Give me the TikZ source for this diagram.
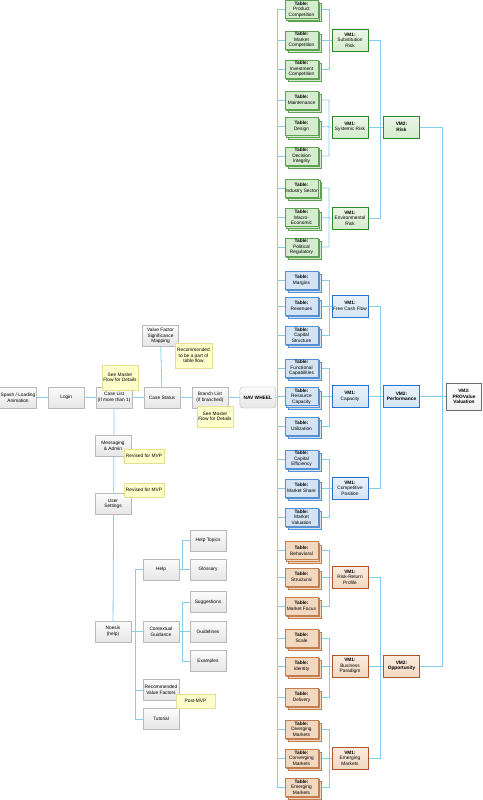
\documentclass[tikz,border=0pt]{standalone}
\usepackage{fontspec}
\setmainfont{Liberation Sans}
\usetikzlibrary{positioning, shadows, backgrounds}
\definecolor{linkblue}{RGB}{135,205,235}
\definecolor{grnline}{RGB}{95,160,85}
\definecolor{grnfill}{RGB}{214,236,206}
\definecolor{grnvm}{RGB}{45,135,45}
\definecolor{bluline}{RGB}{85,145,210}
\definecolor{blufill}{RGB}{212,228,244}
\definecolor{bluvm}{RGB}{40,115,205}
\definecolor{orgline}{RGB}{195,125,80}
\definecolor{orgfill}{RGB}{243,216,192}
\definecolor{orgvm}{RGB}{175,85,45}
\definecolor{notefill}{RGB}{255,255,204}
\definecolor{noteline}{RGB}{232,222,150}

\begin{document}
\begin{tikzpicture}[
    x=1pt, y=-1pt,
    font=\fontsize{4.8}{5.6}\selectfont,
    screen/.style={draw=gray!55, top color=gray!3, bottom color=gray!20,
                   align=center, minimum width=36pt, minimum height=21pt,
                   inner sep=1pt},
    tbl/.style={draw=#1line, fill=#1fill, align=center,
                minimum width=33pt, minimum height=18pt, inner sep=0.5pt,
                double copy shadow={shadow xshift=1.6pt, shadow yshift=-1.6pt,
                                    draw=#1line, fill=#1fill}},
    vmone/.style={draw=#1vm, line width=0.9pt, top color=#1fill!50,
                  bottom color=#1fill, align=center,
                  minimum width=36pt, minimum height=22pt, inner sep=0.5pt},
    vmtwo/.style={vmone=#1, font=\fontsize{4.8}{5.6}\selectfont\bfseries},
    note/.style={draw=noteline, fill=notefill, align=center, inner sep=1pt},
    link/.style={draw=linkblue, line width=0.8pt},
  ]
  \useasboundingbox (0,0) rectangle (482,800);

  % main flow
  \node[screen] (splash) at (18,397.5) {Spash / Loading\\Animation};
  \node[screen, right=11.5pt of splash] (login) {Login};
  \node[screen, right=11.5pt of login] (caselist) {Case List\\(if more than 1)};
  \node[screen, right=11.5pt of caselist] (status) {Case Status};
  \node[screen, right=11.5pt of status] (branch) {Branch List\\(if branched)};
  \node[screen, right=11.5pt of branch, rounded corners=3pt,
        font=\fontsize{4.8}{5.6}\selectfont\bfseries] (nav) {NAV WHEEL};
  \node[screen] (vfsm) at (160.5,336) {Value Factor\\Significance\\Mapping};

  \node[screen] (messaging) at (113,445.5) {Messaging\\\& Admin};
  \node[screen] (settings) at (113,504) {User\\Settings};
  \node[screen] (noesis) at (113,631.5) {Noesis\\(help)};
  \node[screen] (help) at (161,569.5) {Help};
  \node[screen] (guide) at (161,631.5) {Contextual\\Guidance};
  \node[screen] (recvf) at (161,690) {Recommended\\Value Factors};
  \node[screen] (tutorial) at (161,719) {Tutorial};
  \node[screen] (topics) at (208,540.5) {Help Topics};
  \node[screen] (glossary) at (208,569.5) {Glossary};
  \node[screen] (sugg) at (208,602) {Suggestions};
  \node[screen] (guidelines) at (208,631.5) {Guidelines};
  \node[screen] (examples) at (208,661) {Examples};

  % tables
  \node[tbl=grn] (t1) at (301.5,9.5) {\textbf{Table:}\\Product\\Competition};
  \node[tbl=grn] (t2) at (301.5,40) {\textbf{Table:}\\Market\\Competition};
  \node[tbl=grn] (t3) at (301.5,69) {\textbf{Table:}\\Investment\\Competition};
  \node[tbl=grn] (t4) at (301.5,100) {\textbf{Table:}\\Maintenance};
  \node[tbl=grn] (t5) at (301.5,126.5) {\textbf{Table:}\\Design};
  \node[tbl=grn] (t6) at (301.5,156) {\textbf{Table:}\\Decision\\Integrity};
  \node[tbl=grn] (t7) at (301.5,188) {\textbf{Table:}\\Industry Sector};
  \node[tbl=grn] (t8) at (301.5,217.5) {\textbf{Table:}\\Macro-\\Economic};
  \node[tbl=grn] (t9) at (301.5,247) {\textbf{Table:}\\Political\\Regulatory};
  \node[tbl=blu] (t10) at (301.5,280) {\textbf{Table:}\\Margins};
  \node[tbl=blu] (t11) at (301.5,306) {\textbf{Table:}\\Revenues};
  \node[tbl=blu] (t12) at (301.5,335) {\textbf{Table:}\\Capital\\Structure};
  \node[tbl=blu] (t13) at (301.5,368) {\textbf{Table:}\\Functional\\Capabilities};
  \node[tbl=blu] (t14) at (301.5,396.5) {\textbf{Table:}\\Resource\\Capacity};
  \node[tbl=blu] (t15) at (301.5,426) {\textbf{Table:}\\Utilization};
  \node[tbl=blu] (t16) at (301.5,459) {\textbf{Table:}\\Capital\\Efficiency};
  \node[tbl=blu] (t17) at (301.5,488) {\textbf{Table:}\\Market Share};
  \node[tbl=blu] (t18) at (301.5,517) {\textbf{Table:}\\Market\\Valuation};
  \node[tbl=org] (t19) at (301.5,550.5) {\textbf{Table:}\\Behavioral};
  \node[tbl=org] (t20) at (301.5,577) {\textbf{Table:}\\Structural};
  \node[tbl=org] (t21) at (301.5,606) {\textbf{Table:}\\Market Focus};
  \node[tbl=org] (t22) at (301.5,638) {\textbf{Table:}\\Scale};
  \node[tbl=org] (t23) at (301.5,666) {\textbf{Table:}\\Identity};
  \node[tbl=org] (t24) at (301.5,697) {\textbf{Table:}\\Delivery};
  \node[tbl=org] (t25) at (301.5,729) {\textbf{Table:}\\Diverging\\Markets};
  \node[tbl=org] (t26) at (301.5,758) {\textbf{Table:}\\Converging\\Markets};
  \node[tbl=org] (t27) at (301.5,787) {\textbf{Table:}\\Emerging\\Markets};

  % value metrics
  \node[vmone=grn] (v1) at (350,40) {\textbf{VM1:}\\Substitution\\Risk};
  \node[vmone=grn] (v2) at (350,127) {\textbf{VM1:}\\Systemic Risk};
  \node[vmone=grn] (v3) at (350,218) {\textbf{VM1:}\\Environmental\\Risk};
  \node[vmone=blu] (v4) at (350,306) {\textbf{VM1:}\\Free Cash Flow};
  \node[vmone=blu] (v5) at (350,396.5) {\textbf{VM1:}\\Capacity};
  \node[vmone=blu] (v6) at (350,488) {\textbf{VM1:}\\Competitive\\Position};
  \node[vmone=org] (v7) at (350,577) {\textbf{VM1:}\\Risk-Return\\Profile};
  \node[vmone=org] (v8) at (350,666) {\textbf{VM1:}\\Business\\Paradigm};
  \node[vmone=org] (v9) at (350,758) {\textbf{VM1:}\\Emerging\\Markets};
  \node[vmtwo=grn] (w1) at (401.5,127) {VM2:\\Risk};
  \node[vmtwo=blu] (w2) at (401.5,396.5) {VM2:\\Performance};
  \node[vmtwo=org] (w3) at (401.5,666) {VM2:\\Opportunity};
  \node[draw=gray!85!black, line width=0.9pt, top color=white, bottom color=gray!12,
        align=center, minimum width=35pt, minimum height=27pt, inner sep=0.5pt,
        font=\fontsize{4.8}{5.6}\selectfont\bfseries]
        (u) at (464,396.5) {VM3:\\PROValue\\Valuation};

  % notes
  \node[note, minimum width=36pt, minimum height=25pt] (n1) at (120,377.5) {See Master\\Flow for Details};
  \node[note, minimum width=37pt, minimum height=25pt] (n2) at (193.5,355.5) {Recommended\\to be a part of\\table flow};
  \node[note, minimum width=36pt, minimum height=21pt] (n3) at (215,416.5) {See Master\\Flow for Details};
  \node[note, minimum width=40pt, minimum height=14pt] (n4) at (144,456) {Revised for MVP};
  \node[note, minimum width=40pt, minimum height=14pt] (n5) at (144,490) {Revised for MVP};
  \node[note, minimum width=39pt, minimum height=14pt] (n6) at (195.5,701) {Post-MVP};

  \coordinate (tr) at (277,0);
  \coordinate (tb) at (329,0);
  \coordinate (vb) at (380,0);
  \coordinate (wb) at (442,0);
  \coordinate (nb) at (135,0);
  \coordinate (hb) at (182,0);

  \begin{scope}[on background layer]
    \draw[link] (splash) -- (login) -- (caselist) -- (status) -- (branch) -- (nav);
    \draw[link] (status) -- (vfsm);
    \draw[link] (caselist) -- (noesis);
    \draw[link] (noesis) -- (guide) -- (guidelines);
    \draw[link] (help.west) -- (nb |- help) -- (nb |- tutorial) -- (tutorial.west);
    \draw[link] (recvf.west) -- (nb |- recvf);
    \draw[link] (help) -- (glossary);
    \draw[link] (hb |- help) -- (hb |- topics) -- (topics.west);
    \draw[link] (sugg.west) -- (hb |- sugg) -- (hb |- examples) -- (examples.west);
    % trunk from the nav wheel
    \draw[link] (nav.east) -- (tr |- nav);
    \draw[link] (tr |- t1) -- (tr |- t27);
    \foreach \t in {t1,t2,t3,t4,t5,t6,t7,t8,t9,t10,t11,t12,t13,t14,
                    t15,t16,t17,t18,t19,t20,t21,t22,t23,t24,t25,t26,t27}
      \draw[link] (\t.west) -- (tr |- \t);
    \foreach \a/\b/\c/\v in {t1/t2/t3/v1, t4/t5/t6/v2, t7/t8/t9/v3,
                             t10/t11/t12/v4, t13/t14/t15/v5, t16/t17/t18/v6,
                             t19/t20/t21/v7, t22/t23/t24/v8, t25/t26/t27/v9}
      \draw[link] (\a.east) -- (tb |- \a) -- (tb |- \c) -- (\c.east)
                  (\b.east) -- (\v.west);
    \foreach \a/\b/\c/\w in {v1/v2/v3/w1, v4/v5/v6/w2, v7/v8/v9/w3}
      \draw[link] (\a.east) -- (vb |- \a) -- (vb |- \c) -- (\c.east)
                  (\b.east) -- (\w.west);
    \draw[link] (w1.east) -- (wb |- w1) -- (wb |- w3) -- (w3.east)
                (w2.east) -- (u.west);
  \end{scope}
\end{tikzpicture}
\end{document}
